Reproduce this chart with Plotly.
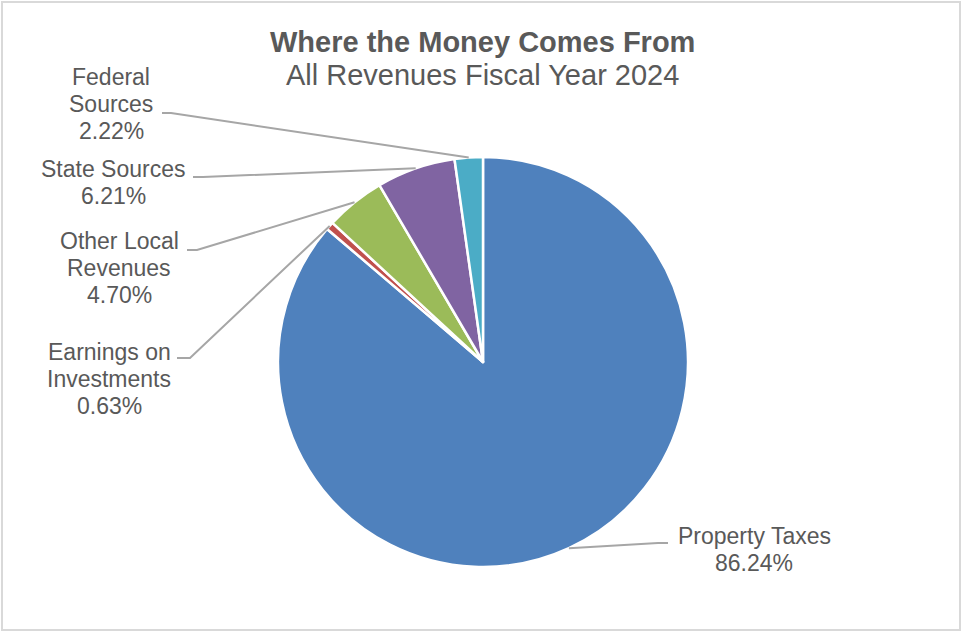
import math
import plotly.graph_objects as go

# Revenue shares, fiscal year 2024 (percent of all revenues)
categories = ["Property Taxes", "Earnings on Investments", "Other Local Revenues",
              "State Sources", "Federal Sources"]
shares = [86.24, 0.63, 4.70, 6.21, 2.22]
colors = ["#4F81BD", "#C0504D", "#9BBB59", "#8064A2", "#4BACC6"]
label_lines = [["Property Taxes"], ["Earnings on", "Investments"], ["Other Local", "Revenues"],
               ["State Sources"], ["Federal", "Sources"]]

W, H = 963, 633
FONT = "Liberation Sans, Arial, sans-serif"
GREY_TXT = "#595959"
LEADER = "#A6A6A6"
LINE_STEP = 27  # pixel spacing between label lines

# pie placement (pixels)
cx, cy, R = 483, 362, 205


def px(x):
    return x / W


def py(y):
    return 1 - y / H


# label block centres and leader-line anchor points (pixels)
label_pos = {
    "Property Taxes": (754, 549),
    "Earnings on Investments": (109, 379),
    "Other Local Revenues": (119, 268),
    "State Sources": (113, 182),
    "Federal Sources": (111, 104),
}
anchors = {
    "Property Taxes": ((668, 543), (658, 543)),
    "Earnings on Investments": ((177, 358), (190, 358)),
    "Other Local Revenues": ((187, 250), (197, 250)),
    "State Sources": ((193, 177), (203, 177)),
    "Federal Sources": ((162, 113), (171, 113)),
}

fig = go.Figure(go.Pie(
    labels=categories,
    values=shares,
    sort=False,
    direction="clockwise",
    rotation=0,
    marker=dict(colors=colors, line=dict(color="white", width=2.5)),
    textinfo="none",
    hoverinfo="label+percent",
    showlegend=False,
    domain=dict(x=[px(cx - R), px(cx + R)], y=[py(cy + R), py(cy - R)]),
))

shapes = []
annotations = []

# outer chart border
shapes.append(dict(type="rect", xref="paper", yref="paper",
                   x0=px(2), x1=px(960), y0=py(630), y1=py(2),
                   line=dict(color="#D9D9D9", width=2), fillcolor="rgba(0,0,0,0)"))

total = sum(shares)
cum = 0.0
for name, val, lines in zip(categories, shares, label_lines):
    mid = (cum + val / 2) / total * 360.0
    cum += val
    ex = cx + R * math.sin(math.radians(mid))
    ey = cy - R * math.cos(math.radians(mid))
    (ax0, ay0), (ax1, ay1) = anchors[name]
    path = f"M {px(ax0)},{py(ay0)} L {px(ax1)},{py(ay1)} L {px(ex)},{py(ey)}"
    shapes.append(dict(type="path", xref="paper", yref="paper", path=path,
                       line=dict(color=LEADER, width=2)))
    lx, ly = label_pos[name]
    rows = lines + [f"{val:.2f}%"]
    top = ly - LINE_STEP * (len(rows) - 1) / 2
    for i, row in enumerate(rows):
        annotations.append(dict(x=px(lx), y=py(top + i * LINE_STEP), xref="paper", yref="paper",
                                text=row, showarrow=False, align="center",
                                xanchor="center", yanchor="middle",
                                font=dict(family=FONT, size=23, color=GREY_TXT)))

annotations.append(dict(x=px(483), y=py(42), xref="paper", yref="paper",
                        text="<b>Where the Money Comes From</b>", showarrow=False,
                        xanchor="center", yanchor="middle",
                        font=dict(family=FONT, size=29, color=GREY_TXT)))
annotations.append(dict(x=px(482), y=py(75), xref="paper", yref="paper",
                        text="All Revenues Fiscal Year 2024", showarrow=False,
                        xanchor="center", yanchor="middle",
                        font=dict(family=FONT, size=29, color=GREY_TXT)))

fig.update_layout(
    width=W, height=H,
    margin=dict(l=0, r=0, t=0, b=0),
    paper_bgcolor="white", plot_bgcolor="white",
    shapes=shapes, annotations=annotations,
)

fig.write_html("out.html")
